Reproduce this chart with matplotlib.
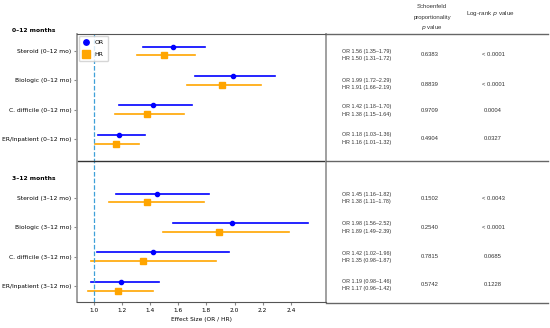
import matplotlib.pyplot as plt
from matplotlib.lines import Line2D

# rows: top block (0-12 mo) and bottom block (3-12 mo)
labels = [
    "Steroid (0\u201312 mo)", "Biologic (0\u201312 mo)",
    "C. difficile (0\u201312 mo)", "ER/Inpatient (0\u201312 mo)",
    "Steroid (3\u201312 mo)", "Biologic (3\u201312 mo)",
    "C. difficile (3\u201312 mo)", "ER/Inpatient (3\u201312 mo)",
]
or_est = [1.56, 1.99, 1.42, 1.18, 1.45, 1.98, 1.42, 1.19]
or_lo = [1.35, 1.72, 1.18, 1.03, 1.16, 1.56, 1.02, 0.98]
or_hi = [1.79, 2.29, 1.70, 1.36, 1.82, 2.52, 1.96, 1.46]
hr_est = [1.50, 1.91, 1.38, 1.16, 1.38, 1.89, 1.35, 1.17]
hr_lo = [1.31, 1.66, 1.15, 1.01, 1.11, 1.49, 0.98, 0.96]
hr_hi = [1.72, 2.19, 1.64, 1.32, 1.78, 2.39, 1.87, 1.42]
schoenfeld = ["0.6383", "0.8839", "0.9709", "0.4904",
              "0.1502", "0.2540", "0.7815", "0.5742"]
logrank = ["< 0.0001", "< 0.0001", "0.0004", "0.0327",
           "< 0.0043", "< 0.0001", "0.0685", "0.1228"]
rows = [0, 1, 2, 3, 5, 6, 7, 8]

W, H = 550, 328
fig = plt.figure(figsize=(5.5, 3.28), dpi=100)
ax = fig.add_axes([77 / W, 1 - 302 / H, (326 - 77) / W, (302 - 34) / H])


def fx(px):
    return px / W


def fy(py):
    return 1 - py / H


off = 0.15
for i, r in enumerate(rows):
    ax.plot([or_lo[i], or_hi[i]], [r - off, r - off], color="blue", lw=1.2)
    ax.plot(or_est[i], r - off, "o", color="blue", ms=3,
            label="OR" if i == 0 else None)
    ax.plot([hr_lo[i], hr_hi[i]], [r + off, r + off], color="orange", lw=1.2)
    ax.plot(hr_est[i], r + off, "s", color="orange", ms=4,
            label="HR" if i == 0 else None)

ax.axvline(1.0, color="#3fa0d8", ls="--", lw=0.9)
ax.axhline(3.73, color="#333333", lw=1)
ax.set_xlim(0.88, 2.65)
ax.set_ylim(8.54, -0.58)
ax.set_yticks(rows)
ax.set_yticklabels(labels, fontsize=4.3)
ax.set_xticks([1.0, 1.2, 1.4, 1.6, 1.8, 2.0, 2.2, 2.4])
ax.tick_params(axis="x", labelsize=4.2, length=2, pad=2, color="#888888")
ax.tick_params(axis="y", length=2, pad=2, color="#888888")
ax.set_xlabel("Effect Size (OR / HR)", fontsize=4.2, labelpad=3)
for s in ax.spines.values():
    s.set_color("#555555")
ax.spines["left"].set_color("#999999")
ax.spines["left"].set_linewidth(1.3)
ax.spines["right"].set_color("#999999")
ax.spines["right"].set_linewidth(1.3)
leg = ax.legend(loc="upper left", fontsize=4.4, handlelength=1,
                borderpad=0.7, labelspacing=1.0, handletextpad=0.9,
                borderaxespad=0.3, markerscale=1.3)

# section titles
fig.text(fx(12), fy(31), "0\u201312 months", fontsize=4.3, fontweight="bold",
         va="center")
fig.text(fx(12), fy(178), "3\u201312 months", fontsize=4.3, fontweight="bold",
         va="center")

# table headers
tfont = "Liberation Sans"
fig.text(fx(432), fy(6), "Schoenfeld", fontsize=4.3, ha="center",
         va="center", color="#333333", family=tfont)
fig.text(fx(432), fy(17), "proportionality", fontsize=4.3, ha="center",
         va="center", color="#333333", family=tfont)
fig.text(fx(432), fy(28), "$\\it{p}$ value", fontsize=4.3, ha="center",
         va="center", color="#333333", family=tfont)
fig.text(fx(490), fy(14), "Log-rank $\\it{p}$ value", fontsize=4.5,
         ha="center", va="center", color="#333333", family=tfont)

# table lines
for yy in [34, 161, 303]:
    fig.add_artist(Line2D([fx(326), fx(548)], [fy(yy), fy(yy)],
                          color="#666666", lw=1))

# table rows
row_px = [55, 84, 110.5, 138.5, 198, 227.5, 257, 285]
for i, yp in enumerate(row_px):
    fig.text(fx(342), fy(yp - 3.8),
             f"OR {or_est[i]:.2f} ({or_lo[i]:.2f}\u2013{or_hi[i]:.2f})",
             fontsize=3.9, va="center", color="#333333", family=tfont)
    fig.text(fx(342), fy(yp + 3.8),
             f"HR {hr_est[i]:.2f} ({hr_lo[i]:.2f}\u2013{hr_hi[i]:.2f})",
             fontsize=3.9, va="center", color="#333333", family=tfont)
    fig.text(fx(430), fy(yp), schoenfeld[i], fontsize=4.2, ha="center",
             va="center", color="#333333", family=tfont)
    fig.text(fx(493), fy(yp), logrank[i], fontsize=4.2, ha="center",
             va="center", color="#333333", family=tfont)

fig.savefig("out.png", dpi=100)
